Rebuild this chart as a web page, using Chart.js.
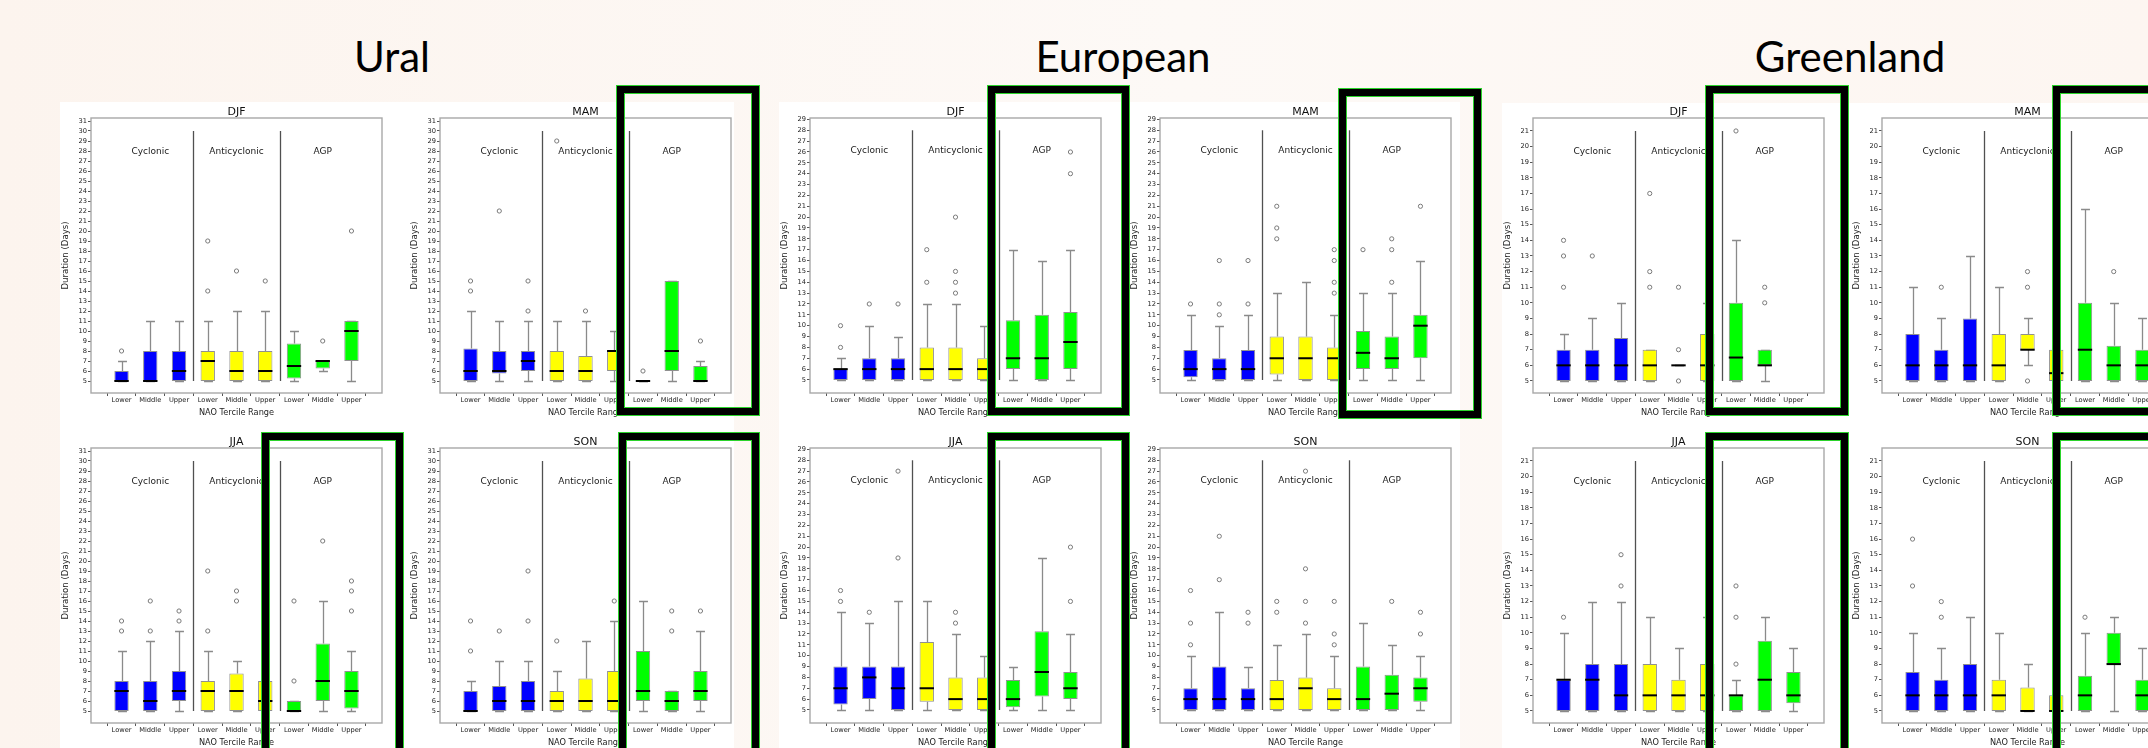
<!DOCTYPE html>
<html><head><meta charset="utf-8">
<script src="https://cdn.jsdelivr.net/npm/chart.js@4.4.0/dist/chart.umd.min.js"></script>
<style>
html,body{margin:0;padding:0;}
body{width:2148px;height:748px;overflow:hidden;position:relative;background:linear-gradient(90deg,#fcf4ee,#fdf9f6 55%,#fdf6f1);font-family:Lato,'Open Sans',sans-serif;}
.sheet{position:absolute;background:#fff;}
.region{position:absolute;top:31px;font-size:42px;line-height:50px;color:#000;transform:translateX(-50%);white-space:nowrap;}
canvas{position:absolute;}
.hl{position:absolute;box-sizing:border-box;border:7px solid #000;outline:1px solid #2bd42b;box-shadow:inset 0 0 0 1px #2bd42b;}
</style>
</head><body>
<div class="sheet" style="left:60px;top:102px;width:674px;height:646px"></div>
<div class="sheet" style="left:779px;top:102px;width:681px;height:646px"></div>
<div class="sheet" style="left:1502px;top:103px;width:646px;height:645px"></div>
<div class="region" style="left:392px">Ural</div>
<div class="region" style="left:1123px">European</div>
<div class="region" style="left:1850px">Greenland</div>
<script>
// ---- data: each row = [whisker low, Q1, median, Q3, whisker high, [outliers]] ----
const categories = ['Lower','Middle','Upper','Lower','Middle','Upper','Lower','Middle','Upper'];
const groups = ['Cyclonic','Anticyclonic','AGP'];
const groupColors = ['#0000ff','#ffff00','#00ff00'];
const uralTicks = [5,6,7,8,9,10,11,12,13,14,15,16,17,18,19,20,21,22,23,24,25,26,27,28,29,30,31];
const europeanTicks = [5,6,7,8,9,10,11,12,13,14,15,16,17,18,19,20,21,22,23,24,25,26,27,28,29];
const greenlandTicks = [5,6,7,8,9,10,11,12,13,14,15,16,17,18,19,20,21];

const uralDJF = [[5,5,5,6,7,[8]],[5,5,5,8,11,[]],[5,5,6,8,11,[]],[5,5,7,8,11,[14,19]],[5,5,6,8,12,[16]],[5,5,6,8,12,[15]],[5,5.25,6.5,8.75,10,[]],[6,6.25,7,7,7,[9]],[5,7,10,11,11,[20]]];
const uralMAM = [[5,5,6,8.25,12,[14,15]],[5,5.75,6,8,11,[22]],[5,6,7,8,11,[12,15]],[5,5,6,8,11,[29]],[5,5,6,7.5,11,[12]],[5,6,8,8,10,[]],[5,5,5,5,5,[6]],[5,6,8,15,15,[]],[5,5,5,6.5,7,[9]]];
const uralJJA = [[5,5,7,8,11,[13,14]],[5,5,6,8,12,[13,16]],[5,6,7,9,13,[14,15]],[5,5,7,8,11,[13,19]],[5,5,7,8.75,10,[16,17]],[5,5,6,8,11,[15]],[5,5,5,6,6,[8,16]],[5,6,8,11.75,16,[22]],[5,5.25,7,9,11,[15,17,18]]];
const uralSON = [[5,5,5,7,8,[11,14]],[5,5,6,7.5,10,[13]],[5,5,6,8,10,[14,19]],[5,5,6,7,9,[12]],[5,5,6,8.25,12,[]],[5,5,6,9,14,[16]],[5,6,7,11,16,[]],[5,5,6,7,7,[13,15]],[5,6,7,9,13,[15]]];

const europeanDJF = [[5,5,6,6,7,[8,10]],[5,5,6,7,10,[12]],[5,5,6,7,9,[12]],[5,5,6,8,12,[14,17]],[5,5,6,8,12,[13,14,15,20]],[5,5,6,7,10,[]],[5,6,7,10.5,17,[]],[5,5,7,11,16,[]],[5,6,8.5,11.25,17,[24,26]]];
const europeanMAM = [[5,5.25,6,7.75,11,[12]],[5,5,6,7,10,[11,12,16]],[5,5,6,7.75,11,[12,16]],[5,5.5,7,9,13,[18,19,21]],[5,5,7,9,14,[]],[5,5,7,8,11,[13,14,16,17]],[5,6,7.5,9.5,13,[17]],[5,6,7,9,13,[14,17,18]],[5,7,10,11,16,[21]]];
const europeanJJA = [[5,5.5,7,9,14,[15,16]],[5,6,8,9,13,[14]],[5,5,7,9,15,[19,27]],[5,5.75,7,11.25,15,[]],[5,5,6,8,12,[13,14]],[5,5,6,8,10,[]],[5,5.25,6,7.75,9,[]],[5,6.25,8.5,12.25,19,[]],[5,6,7,8.5,12,[15,20]]];
const europeanSON = [[5,5,6,7,10,[11,13,16]],[5,5,6,9,14,[17,21]],[5,5,6,7,9,[13,14]],[5,5,6,7.75,11,[14,15]],[5,5,7,8,12,[13,15,18,27]],[5,5,6,7,10,[11,12,15]],[5,5,6,9,13,[]],[5,5,6.5,8.25,11,[15]],[5,5.75,7,8,10,[12,14]]];

const greenlandDJF = [[5,5,6,7,8,[11,13,14]],[5,5,6,7,9,[13]],[5,5,6,7.75,10,[]],[5,5,6,7,7,[11,12,17]],[6,6,6,6,6,[5,7,11]],[5,5,6,8,10,[]],[5,5,6.5,10,14,[21]],[5,6,6,7,7,[10,11]],null];
const greenlandMAM = [[5,5,6,8,11,[]],[5,5,6,7,9,[11]],[5,5,6,9,13,[]],[5,5,6,8,11,[]],[6,7,7,8,9,[5,11,12]],[5,5,5.5,7,9,[12]],[5,5,7,10,16,[]],[5,5,6,7.25,10,[12]],[5,5,6,7,9,[]]];
const greenlandJJA = [[5,5,7,7,10,[11]],[5,5,7,8,12,[]],[5,5,6,8,12,[13,15]],[5,5,6,8,11,[]],[5,5,6,7,9,[]],[5,5,6,8,11,[]],[5,5,6,6,7,[8,11,13]],[5,5,7,9.5,11,[]],[5,5.5,6,7.5,9,[]]];
const greenlandSON = [[5,5,6,7.5,10,[13,16]],[5,5,6,7,9,[11,12]],[5,5,6,8,11,[]],[5,5,6,7,10,[]],[5,5,5,6.5,8,[]],[5,5,5,6,7,[]],[5,5,6,7.25,10,[11]],[5,8,8,10,11,[]],[5,5,6,7,9,[]]];

// ---- layout (positions & styles) ----
const DV = "'DejaVu Sans',sans-serif";
const ural = {ticks: uralTicks, ymin: 3.8, ymax: 31.3, sepTop: 30, labelY: 27.9};
const european = {ticks: europeanTicks, ymin: 3.8, ymax: 29.13, sepTop: 28, labelY: 26.1};
const greenland = {ticks: greenlandTicks, ymin: 4.23, ymax: 21.83, sepTop: 21, labelY: 19.7};
const panels = [
  Object.assign({rows: uralDJF, season: 'DJF', left: 91, top: 118}, ural),
  Object.assign({rows: uralMAM, season: 'MAM', left: 440, top: 118}, ural),
  Object.assign({rows: uralJJA, season: 'JJA', left: 91, top: 448}, ural),
  Object.assign({rows: uralSON, season: 'SON', left: 440, top: 448}, ural),
  Object.assign({rows: europeanDJF, season: 'DJF', left: 810, top: 118}, european),
  Object.assign({rows: europeanMAM, season: 'MAM', left: 1160, top: 118}, european),
  Object.assign({rows: europeanJJA, season: 'JJA', left: 810, top: 448}, european),
  Object.assign({rows: europeanSON, season: 'SON', left: 1160, top: 448}, european),
  Object.assign({rows: greenlandDJF, season: 'DJF', left: 1533, top: 118}, greenland),
  Object.assign({rows: greenlandMAM, season: 'MAM', left: 1882, top: 118}, greenland),
  Object.assign({rows: greenlandJJA, season: 'JJA', left: 1533, top: 448}, greenland),
  Object.assign({rows: greenlandSON, season: 'SON', left: 1882, top: 448}, greenland)
];
const highlights = [
  [617,86,759,415],[262,433,403,760],[619,433,759,760],
  [988,86,1129,415],[1339,89,1481,418],[988,433,1129,760],
  [1706,86,1848,415],[2053,86,2200,415],[1706,433,1848,760],[2053,433,2200,760]
];

const YW = 36, TOPPAD = 16, XH = 34, FW = 292, FH = 275, RP = 4;

function makeChart(p) {
  const cv = document.createElement('canvas');
  const W = YW + FW + RP, H = TOPPAD + FH + XH;
  cv.width = W; cv.height = H;
  cv.style.left = (p.left - YW) + 'px'; cv.style.top = (p.top - TOPPAD) + 'px';
  cv.style.width = W + 'px'; cv.style.height = H + 'px';
  document.body.appendChild(cv);
  const rows = p.rows;
  const boxData = [];
  const outData = [];
  rows.forEach((r, i) => {
    if (!r) return;
    boxData.push({x: i + 1, y: [r[1], r[3]]});
    r[5].forEach(v => outData.push({x: i + 1, y: v}));
  });
  const boxColors = rows.map((r, i) => groupColors[Math.floor(i / 3)]).filter((c, i) => rows[i]);
  const parts = {
    id: 'parts',
    beforeDatasetsDraw(chart) {
      const {ctx, scales: {x, y}} = chart;
      ctx.save();
      ctx.strokeStyle = '#505050'; ctx.lineWidth = 1.3;
      [3.5, 6.5].forEach(v => {
        const px = Math.round(x.getPixelForValue(v)) + 0.5;
        ctx.beginPath(); ctx.moveTo(px, y.getPixelForValue(5)); ctx.lineTo(px, y.getPixelForValue(p.sepTop)); ctx.stroke();
      });
      ctx.fillStyle = '#1a1a1a'; ctx.font = '9px ' + DV; ctx.textAlign = 'center'; ctx.textBaseline = 'middle';
      groups.forEach((g, k) => ctx.fillText(g, x.getPixelForValue(3 * k + 2), y.getPixelForValue(p.labelY)));
      ctx.strokeStyle = '#8a8a8a'; ctx.lineWidth = 1.3;
      const cap = x.getPixelForValue(1.155) - x.getPixelForValue(1);
      rows.forEach((r, i) => {
        if (!r) return;
        const px = Math.round(x.getPixelForValue(i + 1)) + 0.5;
        [[r[1], r[0]], [r[3], r[4]]].forEach(([a0, b0]) => {
          const yb = Math.round(y.getPixelForValue(b0)) + 0.5;
          ctx.beginPath();
          ctx.moveTo(px, y.getPixelForValue(a0)); ctx.lineTo(px, yb);
          ctx.moveTo(px - cap, yb); ctx.lineTo(px + cap, yb);
          ctx.stroke();
        });
      });
      ctx.restore();
    },
    afterDatasetsDraw(chart) {
      const {ctx, scales: {x, y}} = chart;
      ctx.save();
      ctx.strokeStyle = '#000'; ctx.lineWidth = 2;
      const hw = x.getPixelForValue(1.25) - x.getPixelForValue(1);
      rows.forEach((r, i) => {
        if (!r) return;
        const px = x.getPixelForValue(i + 1), py = y.getPixelForValue(r[2]);
        ctx.beginPath(); ctx.moveTo(px - hw, py); ctx.lineTo(px + hw, py); ctx.stroke();
      });
      ctx.restore();
    },
    afterDraw(chart) {
      const {ctx, chartArea: a} = chart;
      ctx.save();
      ctx.strokeStyle = '#a8a8a8'; ctx.lineWidth = 1.4;
      ctx.strokeRect(a.left, a.top, a.right - a.left, a.bottom - a.top);
      ctx.fillStyle = '#111'; ctx.font = '11px ' + DV; ctx.textAlign = 'center'; ctx.textBaseline = 'middle';
      ctx.fillText(p.season, (a.left + a.right) / 2, a.top - 6);
      ctx.restore();
    }
  };
  new Chart(cv, {
    type: 'bar',
    data: {
      datasets: [
        {type: 'bar', data: boxData, backgroundColor: boxColors, borderColor: '#909090', borderWidth: 1,
         borderSkipped: false, barPercentage: 0.5, categoryPercentage: 1},
        {type: 'scatter', data: outData, pointRadius: 2.1, pointBorderWidth: 1, borderColor: '#7a7a7a',
         backgroundColor: 'rgba(0,0,0,0)', pointBackgroundColor: 'rgba(0,0,0,0)', pointBorderColor: '#7a7a7a'}
      ]
    },
    options: {
      responsive: false, animation: false, devicePixelRatio: 1,
      layout: {padding: {top: TOPPAD, right: RP, left: 0, bottom: 0}},
      plugins: {legend: {display: false}, tooltip: {enabled: false}, title: {display: false}},
      scales: {
        x: {
          type: 'linear', min: 0.5, max: 9.5,
          afterBuildTicks: s => { s.ticks = categories.map((c, i) => ({value: i + 1})); },
          afterFit: s => { s.height = XH; },
          ticks: {font: {family: DV, size: 6.7}, color: '#222', padding: 0, autoSkip: false, maxRotation: 0,
                  callback: (v, i) => categories[i]},
          grid: {display: true, drawOnChartArea: false, drawTicks: true, tickLength: 3, color: '#555'},
          border: {display: false},
          title: {display: true, text: 'NAO Tercile Range', font: {family: DV, size: 8.2}, color: '#222', padding: {top: 0, bottom: 9}}
        },
        y: {
          type: 'linear', min: p.ymin, max: p.ymax,
          afterBuildTicks: s => { s.ticks = p.ticks.map(v => ({value: v})); },
          afterFit: s => { s.width = YW; },
          ticks: {font: {family: DV, size: 6.7}, color: '#222', padding: 1, autoSkip: false},
          grid: {display: true, drawOnChartArea: false, drawTicks: true, tickLength: 3, color: '#555'},
          border: {display: false},
          title: {display: true, text: 'Duration (Days)', font: {family: DV, size: 8.6}, color: '#222', padding: {top: 5.3, bottom: 0}}
        }
      }
    },
    plugins: [parts]
  });
}
panels.forEach(makeChart);
highlights.forEach(([l, t, r, b]) => {
  const d = document.createElement('div');
  d.className = 'hl';
  d.style.left = l + 'px'; d.style.top = t + 'px';
  d.style.width = (r - l) + 'px'; d.style.height = (b - t) + 'px';
  document.body.appendChild(d);
});
</script>
</body></html>
